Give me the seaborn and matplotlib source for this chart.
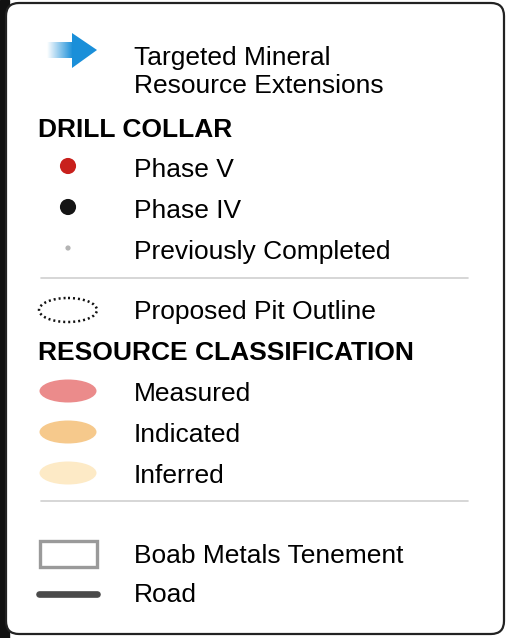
import matplotlib
matplotlib.use('Agg')
import matplotlib.pyplot as plt
from matplotlib.patches import Ellipse, Rectangle, FancyBboxPatch, Polygon
import numpy as np
import pandas as pd
import seaborn as sns

# legend content
arrow_label = ['Targeted Mineral', 'Resource Extensions']
headings = ['DRILL COLLAR', 'RESOURCE CLASSIFICATION']
collar_labels = ['Phase V', 'Phase IV', 'Previously Completed']
collar_colors = ['#c8201c', '#151515', '#b4b4b4']
collar_sizes = [135, 135, 14]
pit_label = 'Proposed Pit Outline'
class_labels = ['Measured', 'Indicated', 'Inferred']
class_colors = ['#eb8b8b', '#f6c98c', '#fdeac6']
other_labels = ['Boab Metals Tenement', 'Road']

sns.set_style('white')
plt.rcParams['font.family'] = ['Liberation Sans', 'DejaVu Sans']
plt.rcParams['text.color'] = 'black'

fig = plt.figure(figsize=(5.07, 6.38), dpi=100)
ax = fig.add_axes([0, 0, 1, 1])
ax.set_xlim(0, 507)
ax.set_ylim(638, 0)
ax.axis('off')

# frame
ax.add_patch(Rectangle((0, 0), 9, 638, color='#111111', zorder=0))
ax.add_patch(FancyBboxPatch((6, 3), 498, 631, boxstyle='round,pad=0,rounding_size=13',
                            facecolor='white', edgecolor='#222222', lw=1.6, zorder=1))

icon_x = 68
text_x = 134
fs = 19

# gradient arrow
grad = np.linspace(0, 1, 100).reshape(1, -1)
blue = np.array([0.10, 0.56, 0.85])
img = np.ones((1, 100, 3)) * (1 - grad[..., None]) + blue * grad[..., None]
ax.imshow(img, extent=(47, 73, 58, 42), aspect='auto', zorder=2)
ax.add_patch(Polygon([(72, 33), (97, 50), (72, 68)], closed=True, color=blue, lw=0, zorder=2))
ax.text(text_x, 65, arrow_label[0], fontsize=fs, va='baseline')
ax.text(text_x, 93, arrow_label[1], fontsize=fs, va='baseline')

# drill collar
ax.text(38, 137, headings[0], fontsize=fs, fontweight='bold', va='baseline')
collar_y = [166, 207, 248]
df = pd.DataFrame({'x': [icon_x] * 3, 'y': collar_y, 'label': collar_labels})
sns.scatterplot(data=df, x='x', y='y', hue='label', palette=dict(zip(collar_labels, collar_colors)),
                size='label', sizes=dict(zip(collar_labels, collar_sizes)),
                linewidth=0, legend=False, ax=ax, zorder=3)
for lab, y in zip(collar_labels, collar_y):
    ax.text(text_x, y + 11, lab, fontsize=fs, va='baseline')

ax.plot([41, 468], [278, 278], color='#d0d0d0', lw=1.2)

# pit outline
ax.add_patch(Ellipse((icon_x, 310), 58, 24, fill=False, edgecolor='#111111', lw=1.8,
                     linestyle=(0, (0.8, 1.2)), zorder=3))
ax.text(text_x, 319, pit_label, fontsize=fs, va='baseline')

# resource classification
ax.text(38, 360, headings[1], fontsize=fs, fontweight='bold', va='baseline')
class_y = [391, 432, 473]
for lab, col, y in zip(class_labels, class_colors, class_y):
    ax.add_patch(Ellipse((icon_x, y), 57, 23, facecolor=col, edgecolor='none', zorder=3))
    ax.text(text_x, y + 10, lab, fontsize=fs, va='baseline')

ax.plot([41, 468], [501, 501], color='#d0d0d0', lw=1.2)

# tenement and road
ax.add_patch(Rectangle((39.5, 540.5), 57, 26, fill=False, edgecolor='#9a9a9a', lw=2.4, zorder=3))
ax.text(text_x, 563, other_labels[0], fontsize=fs, va='baseline')
road = pd.DataFrame({'x': [39, 97], 'y': [594, 594]})
sns.lineplot(data=road, x='x', y='y', color='#4a4a4a', lw=4.8, ax=ax,
             solid_capstyle='round', zorder=3)
ax.text(text_x, 602, other_labels[1], fontsize=fs, va='baseline')

ax.set_xlim(0, 507)
ax.set_ylim(638, 0)
ax.axis('off')
fig.savefig('out.png', dpi=100)
